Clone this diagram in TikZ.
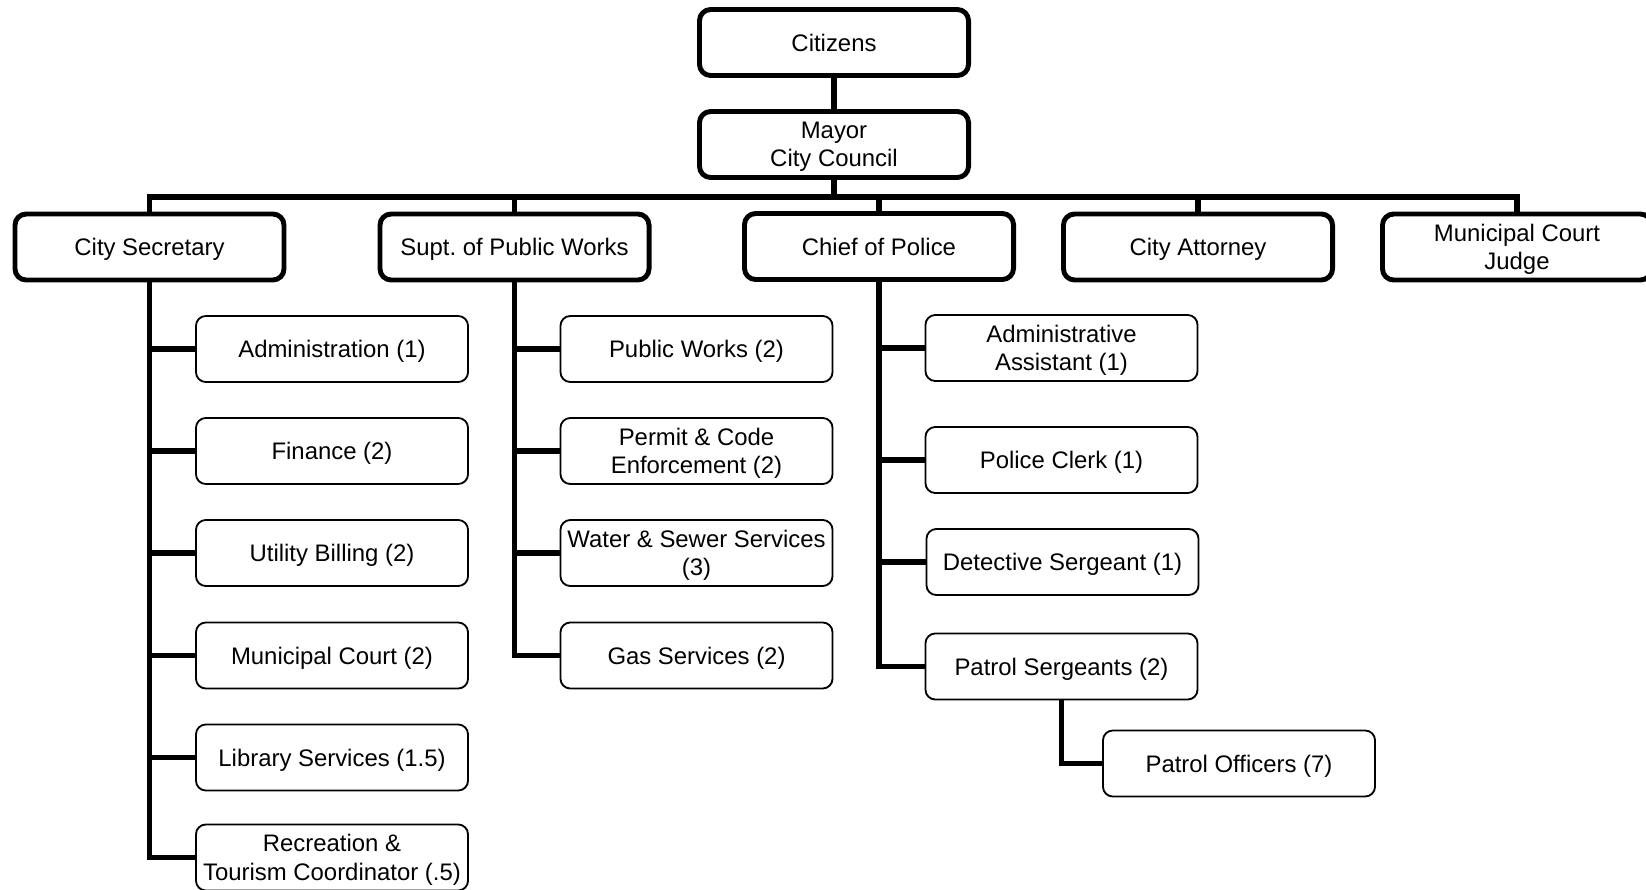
\documentclass[tikz,border=0pt]{standalone}
\usepackage{fontspec}
\setmainfont{Liberation Sans}

\tikzset{
  head/.style={draw, line width=3.5pt, rounded corners=8pt,
    minimum width=6.725cm, minimum height=1.65cm, inner sep=0pt,
    align=center, text depth=0pt, font=\fontsize{17}{20.2}\selectfont},
  unit/.style={draw, line width=1.3pt, rounded corners=7pt,
    minimum width=6.8cm, minimum height=1.65cm, inner sep=0pt,
    align=center, text depth=0pt, font=\fontsize{17}{20.2}\selectfont},
  link/.style={line width=4.2pt},
}

\begin{document}
\begin{tikzpicture}[x=0.025cm, y=-0.025cm]
    \clip (0,0) rectangle (1646,889);

    % top of the chart
    \node[head] (citizens) at (834,42.5) {Citizens};
    \node[head] (mayor) at (834,144.5) {Mayor\\City Council};
    \node[head] (secretary) at (149.5,247) {City Secretary};
    \node[head] (supt) at (514.5,247) {Supt.\ of Public Works};
    \node[head] (chief) at (879,246.5) {Chief of Police};
    \node[head] (attorney) at (1198,247) {City Attorney};
    \node[head] (judge) at (1517,247) {Municipal Court\\Judge};

    \coordinate (bus) at (834,197);
    \draw[link] (citizens) -- (mayor);
    \draw[link] (mayor) -- (bus);
    \draw[link] (secretary.north) |- (bus) -| (judge.north);
    \foreach \d in {supt,chief,attorney}
        \draw[link] (\d.north) -- (\d.north |- bus);

    % city secretary
    \node[unit] (admin) at (332,349) {Administration (1)};
    \node[unit] (finance) at (332,451) {Finance (2)};
    \node[unit] (billing) at (332,553) {Utility Billing (2)};
    \node[unit] (court) at (332,655.5) {Municipal Court (2)};
    \node[unit] (library) at (332,757.5) {Library Services (1.5)};
    \node[unit] (recreation) at (332,857.5) {Recreation \&\\Tourism Coordinator (.5)};
    \draw[link] (secretary.south) |- (recreation.west);
    \foreach \u in {admin,finance,billing,court,library}
        \draw[link] (secretary.south |- \u.west) -- (\u.west);

    % public works
    \node[unit] (works) at (696.5,349) {Public Works (2)};
    \node[unit] (permit) at (696.5,451) {Permit \& Code\\Enforcement (2)};
    \node[unit] (water) at (696.5,553) {Water \& Sewer Services\\(3)};
    \node[unit] (gas) at (696.5,655.5) {Gas Services (2)};
    \draw[link] (supt.south) |- (gas.west);
    \foreach \u in {works,permit,water}
        \draw[link] (supt.south |- \u.west) -- (\u.west);

    % police
    \node[unit] (assistant) at (1061.5,348) {Administrative\\Assistant (1)};
    \node[unit] (clerk) at (1061.5,460) {Police Clerk (1)};
    \node[unit] (detective) at (1062.5,562) {Detective Sergeant (1)};
    \node[unit] (sergeants) at (1061.5,666.5) {Patrol Sergeants (2)};
    \node[unit] (officers) at (1239,763.5) {Patrol Officers (7)};
    \draw[link] (chief.south) |- (sergeants.west);
    \foreach \u in {assistant,clerk,detective}
        \draw[link] (chief.south |- \u.west) -- (\u.west);
    \draw[link] (sergeants.south) |- (officers.west);
\end{tikzpicture}
\end{document}
